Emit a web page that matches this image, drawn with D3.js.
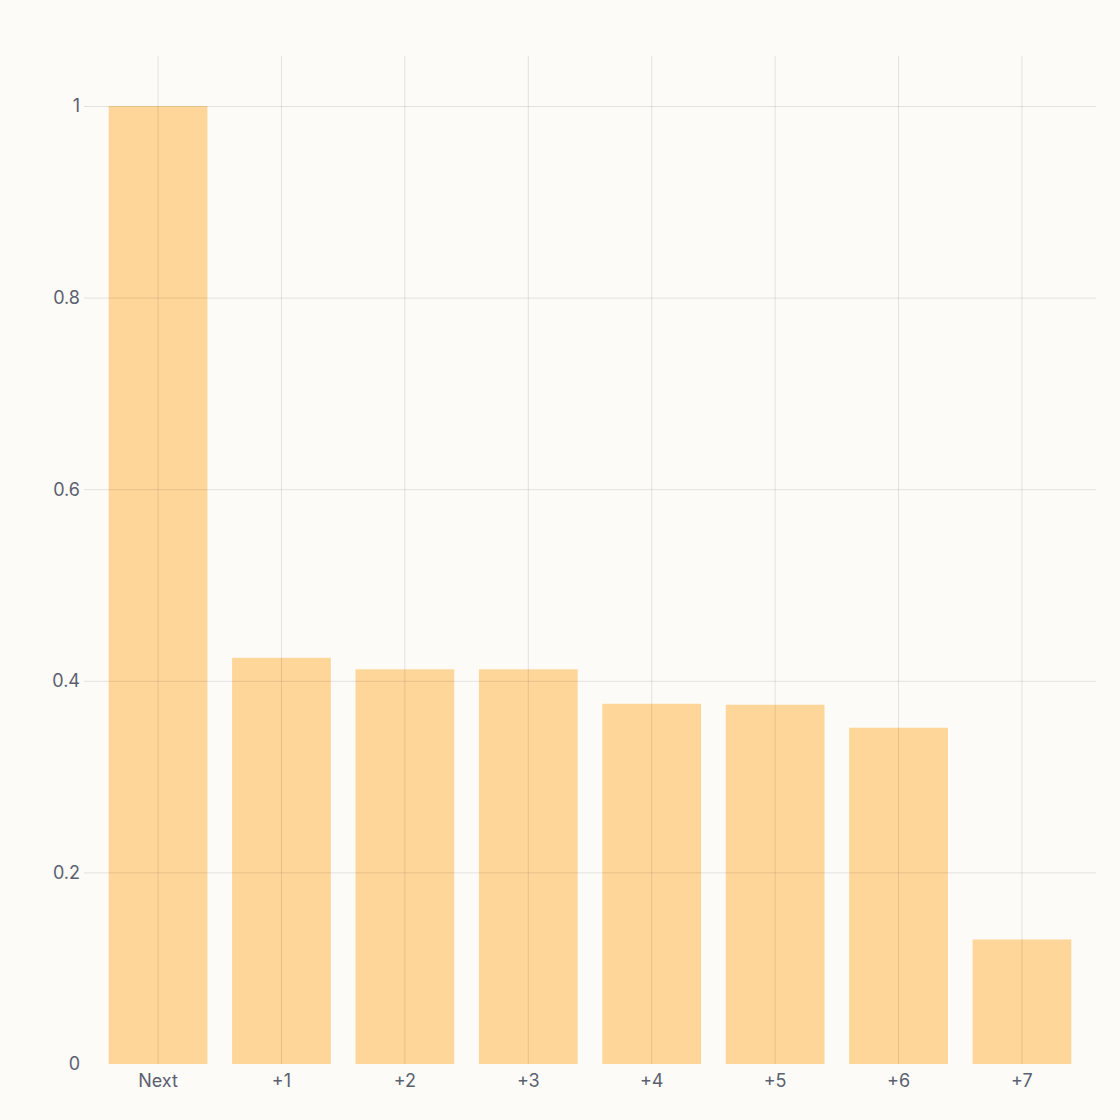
<!DOCTYPE html>
<html>
  <head>
    <meta charset="utf-8">
    <script src="https://cdnjs.cloudflare.com/ajax/libs/d3/7.8.5/d3.min.js"></script>
    <style>
      body { margin: 0; background: #fcfbf7; }
      svg { display: block; font-family: Inter, "Noto Sans", sans-serif; }
    </style>
  </head>
  <body>
    <svg id="chart" width="1120" height="1120"></svg>
    <script>
      const categories = ['Next', '+1', '+2', '+3', '+4', '+5', '+6', '+7'];
      const values = [1.0, 0.424, 0.412, 0.412, 0.376, 0.375, 0.351, 0.130];
      const yTicks = [0, 0.2, 0.4, 0.6, 0.8, 1];

      const svg = d3.select('#chart');
      const plotLeft = 84, plotRight = 1096, plotTop = 56, plotBottom = 1064;

      const x = d3.scaleBand().domain(categories).range([plotLeft, plotRight]).padding(0.2);
      // 1 sits at y=106 in the picture
      const y = d3.scaleLinear().domain([0, 1]).range([plotBottom, 106]);

      svg.append('rect').attr('width', 1120).attr('height', 1120).attr('fill', '#fcfbf7');

      // bars
      svg.append('g')
        .selectAll('rect')
        .data(values)
        .join('rect')
          .attr('x', (d, i) => x(categories[i]))
          .attr('y', d => y(d))
          .attr('width', x.bandwidth())
          .attr('height', d => y(0) - y(d))
          .attr('fill', '#ffd699');

      // grid
      const grid = svg.append('g').attr('stroke', '#000').attr('stroke-opacity', 0.1).attr('stroke-width', 1);
      grid.selectAll('.h')
        .data(yTicks.filter(d => d > 0))
        .join('line')
          .attr('class', 'h')
          .attr('x1', plotLeft).attr('x2', plotRight)
          .attr('y1', d => y(d) + 0.5).attr('y2', d => y(d) + 0.5);
      grid.selectAll('.v')
        .data(categories)
        .join('line')
          .attr('class', 'v')
          .attr('x1', d => x(d) + x.bandwidth() / 2).attr('x2', d => x(d) + x.bandwidth() / 2)
          .attr('y1', plotTop).attr('y2', plotBottom);

      // y axis labels
      svg.append('g')
        .selectAll('text')
        .data(yTicks)
        .join('text')
          .attr('x', 80)
          .attr('y', d => y(d))
          .attr('dy', '0.35em')
          .attr('text-anchor', 'end')
          .attr('fill', '#5b6070')
          .attr('font-size', 18)
          .text(d => d3.format('~g')(d));

      // x axis labels
      svg.append('g')
        .selectAll('text')
        .data(categories)
        .join('text')
          .attr('x', d => x(d) + x.bandwidth() / 2)
          .attr('y', 1087)
          .attr('text-anchor', 'middle')
          .attr('fill', '#5b6070')
          .attr('font-size', 18)
          .text(d => d);
    </script>
  </body>
</html>
